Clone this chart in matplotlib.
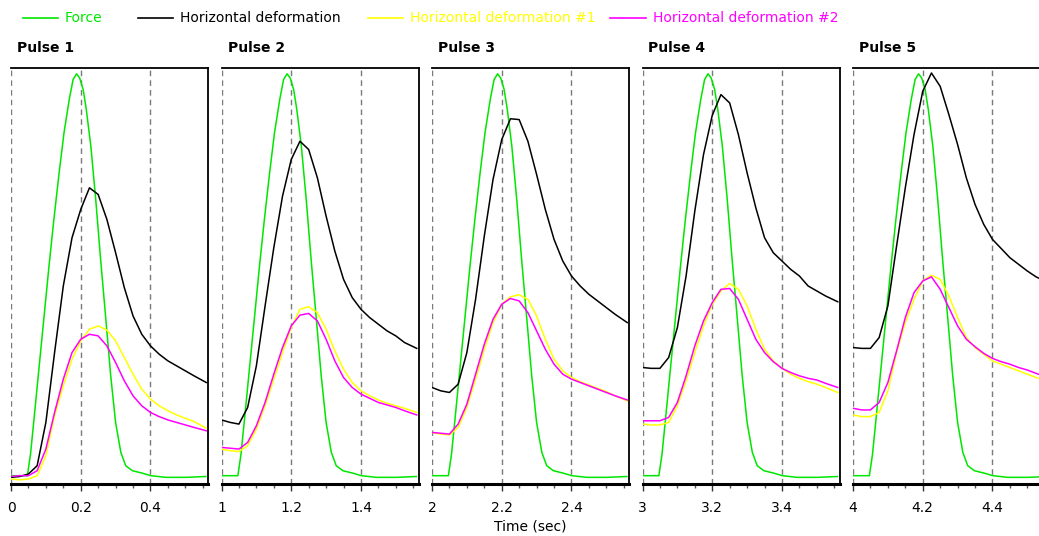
import matplotlib
matplotlib.use("Agg")
import matplotlib.pyplot as plt
from matplotlib.lines import Line2D

# ---------------- data ----------------
pulse_names = ["Pulse 1", "Pulse 2", "Pulse 3", "Pulse 4", "Pulse 5"]
pulse_starts = [0, 1, 2, 3, 4]
tick_labels = [["0", "0.2", "0.4"], ["1", "1.2", "1.4"], ["2", "2.2", "2.4"],
               ["3", "3.2", "3.4"], ["4", "4.2", "4.4"]]
series_names = ["Force", "Horizontal deformation",
                "Horizontal deformation #1", "Horizontal deformation #2"]

# force pulse (same shape in every pulse), time offset within the pulse (s)
force_time_offsets = [0.0, 0.047, 0.056, 0.066, 0.080, 0.095, 0.109, 0.123, 0.138,
                      0.152, 0.167, 0.178, 0.188, 0.197, 0.207, 0.216, 0.229, 0.243,
                      0.257, 0.272, 0.286, 0.300, 0.315, 0.329, 0.348, 0.377, 0.401,
                      0.444, 0.501, 0.559]
force_values = [2.0, 2.0, 7.2, 15.6, 27.6, 40.4, 52.4, 63.6, 74.8,
                84.4, 92.4, 97.2, 98.6, 97.6, 94.8, 90.0, 81.2, 68.4,
                54.0, 39.6, 26.0, 14.8, 7.6, 4.4, 3.2, 2.6, 2.0,
                1.6, 1.6, 1.8]

time_offsets = [0.0, 0.025, 0.05, 0.075, 0.1, 0.125, 0.15, 0.175, 0.2, 0.225, 0.25,
                0.275, 0.3, 0.325, 0.35, 0.375, 0.4, 0.425, 0.45, 0.475, 0.5, 0.525, 0.56]

hdef_p1 = [1.6, 1.8, 2.4, 4.4, 14.8, 31.6, 47.6, 59.2, 66, 71.2, 69.6, 63.6, 55.6, 47.2, 40.4, 36, 33.2, 31.2, 29.6, 28.4, 27.2, 26, 24.4]
hdef_p2 = [15.4, 14.8, 14.4, 18.4, 28.4, 42.8, 56.8, 69.2, 78, 82.4, 80.4, 73.6, 64.4, 56, 49.2, 44.8, 42, 40, 38.4, 36.8, 35.6, 34, 32.6]
hdef_p3 = [23.2, 22.4, 22, 24, 31.6, 44.4, 59.6, 73.2, 82.8, 87.8, 87.6, 82.4, 74.4, 66, 58.8, 53.6, 50, 47.6, 45.6, 44, 42.4, 40.8, 38.8]
hdef_p4 = [28, 27.8, 27.8, 30.4, 37.6, 50, 65.6, 79.2, 88.6, 93.6, 91.6, 84, 74.8, 66.4, 59.2, 55.6, 53.6, 51.6, 50, 47.6, 46.4, 45.2, 43.8]
hdef_p5 = [32.8, 32.6, 32.6, 35.2, 42.8, 57.2, 71.2, 84, 94.4, 98.8, 95.6, 88.8, 81.6, 73.6, 67.2, 62.4, 58.8, 56.6, 54.4, 52.8, 51.2, 49.8, 48.4]

hdef1_p1 = [1.2, 1.0, 1.2, 2, 6.8, 16.4, 23.6, 30, 34.4, 37.2, 38, 37, 34.4, 30.4, 26.4, 22.8, 20.4, 18.8, 17.6, 16.6, 15.8, 15, 13.4]
hdef1_p2 = [8.4, 8, 7.8, 9.2, 13.2, 18.8, 25.2, 31.6, 37.6, 42, 42.6, 41.2, 37.2, 32, 27.6, 24.4, 22.4, 21.2, 20.2, 19.4, 18.8, 18.2, 17.2]
hdef1_p3 = [12.4, 12, 11.8, 13.6, 18.4, 25.2, 32.4, 38.8, 43.2, 45, 45.5, 44.4, 40.4, 34.8, 30, 27.2, 25.6, 24.6, 23.8, 23, 22.2, 21.2, 20]
hdef1_p4 = [14.4, 14.2, 14.2, 14.8, 18.8, 24.8, 31.6, 38, 43.2, 46.4, 48.2, 46.8, 42.8, 37.2, 32.4, 29.6, 27.8, 26.4, 25.4, 24.6, 24, 23.2, 22]
hdef1_p5 = [16.6, 16.2, 16.2, 17.2, 22.4, 31.6, 38.8, 44.4, 48.8, 50.2, 49.2, 45.2, 40, 35.2, 32.8, 31.2, 29.6, 28.8, 28, 27.2, 26.4, 25.6, 24.6]

hdef2_p1 = [1.8, 2, 2, 3.2, 8.4, 17.2, 25.2, 31.6, 34.8, 36, 35.6, 33.2, 29.2, 24.8, 21.2, 18.8, 17.2, 16.2, 15.4, 14.8, 14.2, 13.6, 12.8]
hdef2_p2 = [8.8, 8.6, 8.4, 10, 14, 19.6, 26.4, 32.8, 38, 40.6, 41, 39.2, 34.8, 29.6, 25.6, 23.2, 21.6, 20.6, 19.6, 19, 18.4, 17.6, 16.6]
hdef2_p3 = [12.4, 12.2, 12, 14.4, 19.2, 26.4, 33.6, 39.6, 43.2, 44.6, 44, 41.2, 36.8, 32.4, 28.8, 26.4, 25.2, 24.4, 23.6, 22.8, 22, 21.2, 20.2]
hdef2_p4 = [15.2, 15.2, 15.2, 16, 19.6, 26, 33.2, 39.2, 43.6, 46.8, 47, 44.4, 39.6, 34.8, 31.6, 29.4, 27.8, 26.8, 26, 25.4, 25, 24.2, 23.2]
hdef2_p5 = [18.2, 17.8, 17.8, 19.6, 24.4, 32, 40, 46, 48.8, 49.8, 46.8, 42.4, 38, 34.8, 33, 31.4, 30.2, 29.4, 28.8, 28, 27.4, 26.6, 25.6]

hdef = [hdef_p1, hdef_p2, hdef_p3, hdef_p4, hdef_p5]
hdef1 = [hdef1_p1, hdef1_p2, hdef1_p3, hdef1_p4, hdef1_p5]
hdef2 = [hdef2_p1, hdef2_p2, hdef2_p3, hdef2_p4, hdef2_p5]

# ---------------- style ----------------
W, H = 1039, 536
colors = ["#00e600", "#000000", "#ffff00", "#ff00ff"]
FONT = "DejaVu Sans"
plt.rcParams["font.family"] = FONT

fig = plt.figure(figsize=(W / 100, H / 100), dpi=100)
fig.patch.set_facecolor("white")

panel_lefts = [11, 221.5, 432, 642.5, 853]
panel_w, panel_h, panel_bottom = 197, 416, 52
span = 0.565

for i, start in enumerate(pulse_starts):
    ax = fig.add_axes([panel_lefts[i] / W, panel_bottom / H, panel_w / W, panel_h / H])
    ft = [start + t for t in force_time_offsets]
    tt = [start + t for t in time_offsets]
    ax.plot(ft, force_values, color=colors[0], lw=1.1, zorder=3)
    ax.plot(tt, hdef[i], color=colors[1], lw=1.1, zorder=3)
    ax.plot(tt, hdef1[i], color=colors[2], lw=1.1, zorder=3)
    ax.plot(tt, hdef2[i], color=colors[3], lw=1.1, zorder=4)
    ax.set_xlim(start, start + span)
    ax.set_ylim(0, 100)
    majors = [start, start + 0.2, start + 0.4]
    ax.set_xticks(majors)
    ax.set_xticklabels(tick_labels[i])
    ax.set_xticks([start + 0.05 * k for k in range(1, 12) if k % 4 != 0], minor=True)
    ax.set_yticks([])
    for m in majors:
        ax.axvline(m, color="#7a7a7a", lw=1.0, ls=(0, (4, 3)), zorder=1)
    ax.tick_params(axis="x", which="major", direction="out", length=5, width=1,
                   color="#333333", pad=7.5, labelsize=10)
    ax.tick_params(axis="x", which="minor", direction="out", length=3, width=1,
                   color="#555555")
    ax.spines["left"].set_visible(False)
    ax.spines["bottom"].set_linewidth(2.2)
    ax.spines["top"].set_linewidth(1.3)
    ax.spines["right"].set_linewidth(1.3)
    for s in ax.spines.values():
        s.set_color("black")
    fig.text((panel_lefts[i] + 6) / W, 1 - 52 / H, pulse_names[i],
             fontsize=10, fontweight="bold", va="baseline", ha="left")

# x-axis title
fig.text(530 / W, 1 - 531 / H, "Time (sec)", fontsize=10, ha="center", va="baseline")

# legend (manual, matching the reference layout)
legend_line_x = [(23, 58), (138, 173), (368, 403), (610, 646)]
for (x0, x1), name, c in zip(legend_line_x, series_names, colors):
    fig.add_artist(Line2D([x0 / W, x1 / W], [1 - 17.5 / H, 1 - 17.5 / H],
                          color=c, lw=1.2, transform=fig.transFigure))
    fig.text((x1 + 7) / W, 1 - 21.7 / H, name, color=c, fontsize=10,
             va="baseline", ha="left")

fig.savefig("out.png", dpi=100, facecolor="white")
